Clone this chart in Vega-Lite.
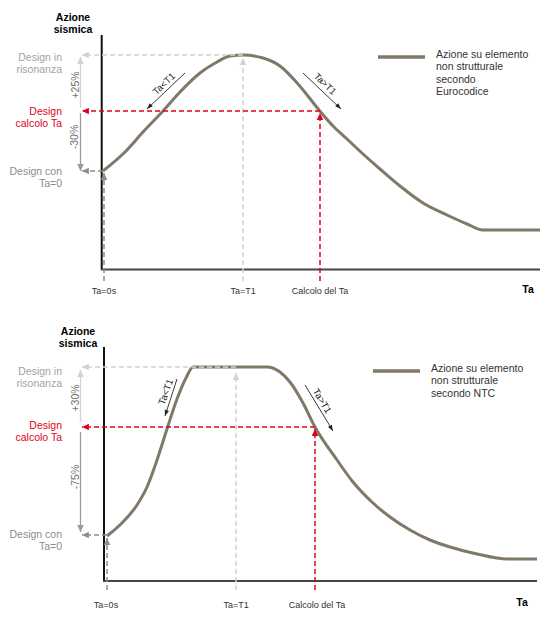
{
  "$schema": "https://vega.github.io/schema/vega-lite/v6.json",
  "padding": 0,
  "config": {"view": {"stroke": null}, "font": "Liberation Sans"},
  "data": {"values": [
    {"panel":"1","type":"axis","kind":"yaxis","x":-1.3,"y":235,"x2":-1.3,"y2":0},
    {"panel":"1","type":"axis","kind":"xaxis","x":-2,"y":0.5,"x2":437,"y2":0.5},
    {"panel":"1","type":"curve","x":0,"y":99},
    {"panel":"1","type":"curve","x":22,"y":118},
    {"panel":"1","type":"curve","x":40,"y":138},
    {"panel":"1","type":"curve","x":60,"y":159},
    {"panel":"1","type":"curve","x":77,"y":178},
    {"panel":"1","type":"curve","x":97,"y":197},
    {"panel":"1","type":"curve","x":114,"y":208},
    {"panel":"1","type":"curve","x":127,"y":214},
    {"panel":"1","type":"curve","x":140,"y":215},
    {"panel":"1","type":"curve","x":160,"y":212},
    {"panel":"1","type":"curve","x":177,"y":204},
    {"panel":"1","type":"curve","x":195,"y":186},
    {"panel":"1","type":"curve","x":216,"y":160},
    {"panel":"1","type":"curve","x":230,"y":144},
    {"panel":"1","type":"curve","x":244,"y":131},
    {"panel":"1","type":"curve","x":260,"y":116},
    {"panel":"1","type":"curve","x":277,"y":101},
    {"panel":"1","type":"curve","x":297,"y":84},
    {"panel":"1","type":"curve","x":320,"y":67},
    {"panel":"1","type":"curve","x":344,"y":55},
    {"panel":"1","type":"curve","x":364,"y":46},
    {"panel":"1","type":"curve","x":380,"y":40},
    {"panel":"1","type":"curve","x":437,"y":40},
    {"panel":"1","type":"guide","kind":"risonanza","head":"left","x":140,"y":215,"x2":-21,"y2":215},
    {"panel":"1","type":"guide","kind":"risonanza","head":"up","x":140,"y":-11,"x2":140,"y2":212},
    {"panel":"1","type":"guide","kind":"calcolo","head":"left","x":217,"y":159,"x2":-21,"y2":159},
    {"panel":"1","type":"guide","kind":"calcolo","head":"up","x":217,"y":-11,"x2":217,"y2":157},
    {"panel":"1","type":"guide","kind":"zero","head":"left","x":0,"y":99,"x2":-21,"y2":99},
    {"panel":"1","type":"guide","kind":"zero","head":"up","x":1,"y":-11,"x2":1,"y2":97},
    {"panel":"1","type":"guide","kind":"pct_up","head":"up","x":-22.5,"y":162,"x2":-22.5,"y2":213},
    {"panel":"1","type":"guide","kind":"pct_down","head":"down","x":-22.5,"y":157,"x2":-22.5,"y2":99},
    {"panel":"1","type":"guide","kind":"dir","head":"dl45","x":82,"y":197,"x2":44,"y2":161},
    {"panel":"1","type":"guide","kind":"dir","head":"dr45","x":200,"y":197,"x2":238,"y2":161},
    {"panel":"1","type":"label","kind":"lab_risonanza","x":-41,"y":212,"text":"Design in\nrisonanza"},
    {"panel":"1","type":"label","kind":"lab_calcolo","x":-41,"y":158,"text":"Design\ncalcolo Ta"},
    {"panel":"1","type":"label","kind":"lab_zero","x":-41,"y":98,"text":"Design con\nTa=0"},
    {"panel":"1","type":"tick","x":1,"y":-21,"text":"Ta=0s"},
    {"panel":"1","type":"tick","x":140,"y":-21,"text":"Ta=T1"},
    {"panel":"1","type":"tick","x":217,"y":-21,"text":"Calcolo del Ta"},
    {"panel":"1","type":"title","x":-30,"y":252,"text":"Azione\nsismica"},
    {"panel":"1","type":"title","x":425,"y":-20,"text":"Ta"},
    {"panel":"1","type":"legend","x":275,"x2":322,"y":213,"text":"Azione su elemento\nnon strutturale\nsecondo\nEurocodice"},
    {"panel":"1","type":"pct","x":-27,"y":185,"text":"+25%"},
    {"panel":"1","type":"pct","x":-28,"y":133,"text":"-30%"},
    {"panel":"1","type":"dirlabel","head":"dl45","x":61,"y":186,"text":"Ta<T1"},
    {"panel":"1","type":"dirlabel","head":"dr45","x":222,"y":186,"text":"Ta>T1"},

    {"panel":"2","type":"axis","kind":"yaxis","x":1,"y":232,"x2":1,"y2":-2},
    {"panel":"2","type":"axis","kind":"xaxis","x":0,"y":-2,"x2":434,"y2":-2},
    {"panel":"2","type":"curve","x":4,"y":43},
    {"panel":"2","type":"curve","x":20,"y":57},
    {"panel":"2","type":"curve","x":34,"y":74},
    {"panel":"2","type":"curve","x":44,"y":92},
    {"panel":"2","type":"curve","x":54,"y":119},
    {"panel":"2","type":"curve","x":64,"y":150},
    {"panel":"2","type":"curve","x":74,"y":180},
    {"panel":"2","type":"curve","x":83,"y":201},
    {"panel":"2","type":"curve","x":90,"y":212},
    {"panel":"2","type":"curve","x":164,"y":212},
    {"panel":"2","type":"curve","x":177,"y":207},
    {"panel":"2","type":"curve","x":187,"y":197},
    {"panel":"2","type":"curve","x":200,"y":176},
    {"panel":"2","type":"curve","x":212,"y":152},
    {"panel":"2","type":"curve","x":234,"y":119},
    {"panel":"2","type":"curve","x":250,"y":97},
    {"panel":"2","type":"curve","x":270,"y":76},
    {"panel":"2","type":"curve","x":287,"y":62},
    {"panel":"2","type":"curve","x":307,"y":49},
    {"panel":"2","type":"curve","x":327,"y":39},
    {"panel":"2","type":"curve","x":347,"y":32},
    {"panel":"2","type":"curve","x":374,"y":25},
    {"panel":"2","type":"curve","x":404,"y":20},
    {"panel":"2","type":"curve","x":434,"y":20},
    {"panel":"2","type":"guide","kind":"risonanza","head":"left","x":133,"y":212,"x2":-21,"y2":212},
    {"panel":"2","type":"guide","kind":"risonanza","head":"up","x":133,"y":-11,"x2":133,"y2":206},
    {"panel":"2","type":"guide","kind":"calcolo","head":"left","x":212,"y":152,"x2":-21,"y2":152},
    {"panel":"2","type":"guide","kind":"calcolo","head":"up","x":212,"y":-11,"x2":212,"y2":150},
    {"panel":"2","type":"guide","kind":"zero","head":"left","x":4,"y":44,"x2":-21,"y2":44},
    {"panel":"2","type":"guide","kind":"zero","head":"up","x":4,"y":-11,"x2":4,"y2":41},
    {"panel":"2","type":"guide","kind":"pct_up","head":"up","x":-22.5,"y":157,"x2":-22.5,"y2":209},
    {"panel":"2","type":"guide","kind":"pct_down","head":"down","x":-22.5,"y":147,"x2":-22.5,"y2":47},
    {"panel":"2","type":"guide","kind":"dir","head":"dl72","x":74,"y":200,"x2":62,"y2":163},
    {"panel":"2","type":"guide","kind":"dir","head":"dr59","x":202,"y":194,"x2":230,"y2":148},
    {"panel":"2","type":"label","kind":"lab_risonanza","x":-41,"y":207,"text":"Design in\nrisonanza"},
    {"panel":"2","type":"label","kind":"lab_calcolo","x":-41,"y":153,"text":"Design\ncalcolo Ta"},
    {"panel":"2","type":"label","kind":"lab_zero","x":-41,"y":44,"text":"Design con\nTa=0"},
    {"panel":"2","type":"tick","x":3,"y":-26,"text":"Ta=0s"},
    {"panel":"2","type":"tick","x":133,"y":-26,"text":"Ta=T1"},
    {"panel":"2","type":"tick","x":214,"y":-26,"text":"Calcolo del Ta"},
    {"panel":"2","type":"title","x":-25,"y":247,"text":"Azione\nsismica"},
    {"panel":"2","type":"title","x":419,"y":-24,"text":"Ta"},
    {"panel":"2","type":"legend","x":270,"x2":317,"y":208,"text":"Azione su elemento\nnon strutturale\nsecondo NTC"},
    {"panel":"2","type":"pct","x":-27,"y":181,"text":"+30%"},
    {"panel":"2","type":"pct","x":-27,"y":102,"text":"-75%"},
    {"panel":"2","type":"dirlabel","head":"dl72","x":63,"y":187,"text":"Ta<T1"},
    {"panel":"2","type":"dirlabel","head":"dr59","x":219,"y":178,"text":"Ta>T1"}
  ]},
  "facet": {"row": {"field": "panel", "type": "nominal", "title": null, "header": {"labels": false, "title": null}}},
  "spacing": 0,
  "spec": {
    "width": 550,
    "height": 309,
    "encoding": {
      "x": {"field": "x", "type": "quantitative", "scale": {"domain": [-103, 447], "nice": false, "zero": false}, "axis": null},
      "y": {"field": "y", "type": "quantitative", "scale": {"domain": [-39, 270], "nice": false, "zero": false}, "axis": null}
    },
    "layer": [
      {
        "transform": [{"filter": "datum.type == 'axis'"}],
        "mark": {"type": "rule", "strokeWidth": 2},
        "encoding": {
          "x2": {"field": "x2"}, "y2": {"field": "y2"},
          "color": {"field": "kind", "type": "nominal", "legend": null, "scale": {"domain": ["yaxis","xaxis","risonanza","calcolo","zero","pct_up","pct_down","dir","lab_risonanza","lab_calcolo","lab_zero"], "range": ["#111111","#454545","#d2d2d2","#e2001a","#8c8c8c","#d2d2d2","#9a9a9a","#222222","#a3a3a3","#e2001a","#8c8c8c"]}}
        }
      },
      {
        "transform": [{"filter": "datum.type == 'curve'"}],
        "mark": {"type": "line", "color": "#807868", "strokeWidth": 3, "interpolate": "monotone"},
        "encoding": {}
      },
      {
        "transform": [{"filter": "datum.type == 'legend'"}],
        "mark": {"type": "rule", "color": "#807868", "strokeWidth": 3.5},
        "encoding": {"x2": {"field": "x2"}}
      },
      {
        "transform": [{"filter": "datum.type == 'guide' && (datum.kind == 'risonanza' || datum.kind == 'calcolo' || datum.kind == 'zero')"}],
        "mark": {"type": "rule", "strokeWidth": 1.5, "strokeDash": [5, 3]},
        "encoding": {
          "x2": {"field": "x2"}, "y2": {"field": "y2"},
          "color": {"field": "kind", "type": "nominal", "legend": null, "scale": {"domain": ["yaxis","xaxis","risonanza","calcolo","zero","pct_up","pct_down","dir","lab_risonanza","lab_calcolo","lab_zero"], "range": ["#111111","#454545","#d2d2d2","#e2001a","#8c8c8c","#d2d2d2","#9a9a9a","#222222","#a3a3a3","#e2001a","#8c8c8c"]}}
        }
      },
      {
        "transform": [{"filter": "datum.type == 'guide' && (datum.kind == 'pct_up' || datum.kind == 'pct_down')"}],
        "mark": {"type": "rule", "strokeWidth": 1.3},
        "encoding": {
          "x2": {"field": "x2"}, "y2": {"field": "y2"},
          "color": {"field": "kind", "type": "nominal", "legend": null, "scale": {"domain": ["yaxis","xaxis","risonanza","calcolo","zero","pct_up","pct_down","dir","lab_risonanza","lab_calcolo","lab_zero"], "range": ["#111111","#454545","#d2d2d2","#e2001a","#8c8c8c","#d2d2d2","#9a9a9a","#222222","#a3a3a3","#e2001a","#8c8c8c"]}}
        }
      },
      {
        "transform": [{"filter": "datum.type == 'guide' && datum.kind == 'dir'"}],
        "mark": {"type": "rule", "strokeWidth": 0.9, "color": "#222222"},
        "encoding": {"x2": {"field": "x2"}, "y2": {"field": "y2"}}
      },
      {
        "transform": [{"filter": "datum.type == 'guide'"}],
        "mark": {"type": "point", "filled": true, "size": 36, "opacity": 1, "strokeWidth": 0},
        "encoding": {
          "x": {"field": "x2", "type": "quantitative"},
          "y": {"field": "y2", "type": "quantitative"},
          "shape": {"field": "head", "type": "nominal", "legend": null, "scale": {"domain": ["left","up","down","dl45","dr45","dl72","dr59"], "range": ["M0,0L2.3,-1.1L2.3,1.1Z","M0,0L-1.1,2.3L1.1,2.3Z","M0,0L-1.1,-2.3L1.1,-2.3Z","M0,0L1.93,-0.9L0.9,-1.93Z","M0,0L-0.9,-1.93L-1.93,-0.9Z","M0,0L1.31,-1.68L-0.08,-2.13Z","M0,0L-0.42,-2.09L-1.66,-1.33Z"]}},
          "color": {"field": "kind", "type": "nominal", "legend": null, "scale": {"domain": ["yaxis","xaxis","risonanza","calcolo","zero","pct_up","pct_down","dir","lab_risonanza","lab_calcolo","lab_zero"], "range": ["#111111","#454545","#d2d2d2","#e2001a","#8c8c8c","#d2d2d2","#9a9a9a","#222222","#a3a3a3","#e2001a","#8c8c8c"]}}
        }
      },
      {
        "transform": [{"filter": "datum.type == 'label'"}],
        "mark": {"type": "text", "align": "right", "baseline": "middle", "fontSize": 10.5, "lineHeight": 12, "lineBreak": "\n"},
        "encoding": {
          "text": {"field": "text"},
          "color": {"field": "kind", "type": "nominal", "legend": null, "scale": {"domain": ["yaxis","xaxis","risonanza","calcolo","zero","pct_up","pct_down","dir","lab_risonanza","lab_calcolo","lab_zero"], "range": ["#111111","#454545","#d2d2d2","#e2001a","#8c8c8c","#d2d2d2","#9a9a9a","#222222","#a3a3a3","#e2001a","#8c8c8c"]}}
        }
      },
      {
        "transform": [{"filter": "datum.type == 'tick'"}],
        "mark": {"type": "text", "align": "center", "baseline": "middle", "fontSize": 9, "color": "#333333"},
        "encoding": {"text": {"field": "text"}}
      },
      {
        "transform": [{"filter": "datum.type == 'title'"}],
        "mark": {"type": "text", "align": "center", "baseline": "middle", "fontSize": 10.5, "fontWeight": "bold", "lineHeight": 12, "lineBreak": "\n", "color": "#000000"},
        "encoding": {"text": {"field": "text"}}
      },
      {
        "transform": [{"filter": "datum.type == 'legend'"}],
        "mark": {"type": "text", "align": "left", "baseline": "middle", "fontSize": 10.5, "lineHeight": 12.3, "lineBreak": "\n", "dx": 11, "dy": -2, "color": "#333333"},
        "encoding": {"x": {"field": "x2", "type": "quantitative"}, "text": {"field": "text"}}
      },
      {
        "transform": [{"filter": "datum.type == 'pct'"}],
        "mark": {"type": "text", "align": "center", "baseline": "middle", "fontSize": 10.5, "angle": 270, "color": "#707070"},
        "encoding": {"text": {"field": "text"}}
      },
      {
        "transform": [{"filter": "datum.type == 'dirlabel' && datum.head == 'dl45'"}],
        "mark": {"type": "text", "align": "center", "baseline": "middle", "fontSize": 9.5, "angle": 316, "color": "#222222"},
        "encoding": {"text": {"field": "text"}}
      },
      {
        "transform": [{"filter": "datum.type == 'dirlabel' && datum.head == 'dr45'"}],
        "mark": {"type": "text", "align": "center", "baseline": "middle", "fontSize": 9.5, "angle": 44, "color": "#222222"},
        "encoding": {"text": {"field": "text"}}
      },
      {
        "transform": [{"filter": "datum.type == 'dirlabel' && datum.head == 'dl72'"}],
        "mark": {"type": "text", "align": "center", "baseline": "middle", "fontSize": 9.5, "angle": 290, "color": "#222222"},
        "encoding": {"text": {"field": "text"}}
      },
      {
        "transform": [{"filter": "datum.type == 'dirlabel' && datum.head == 'dr59'"}],
        "mark": {"type": "text", "align": "center", "baseline": "middle", "fontSize": 9.5, "angle": 59, "color": "#222222"},
        "encoding": {"text": {"field": "text"}}
      }
    ]
  }
}
